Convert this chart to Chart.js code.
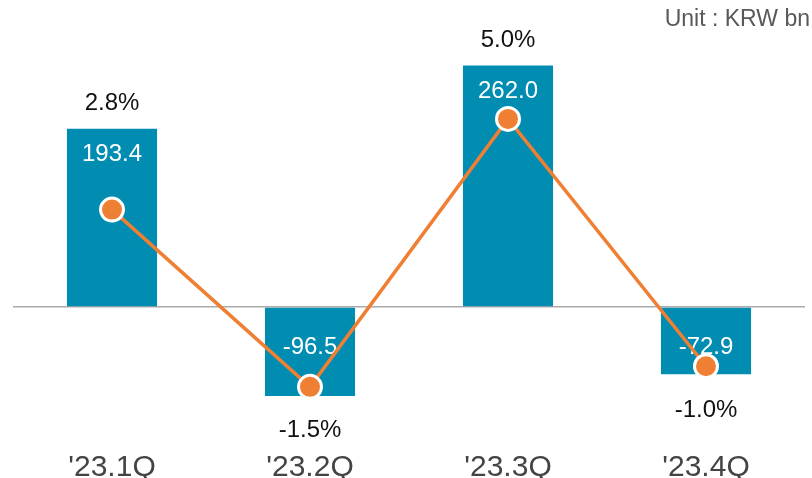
<!DOCTYPE html>
<html>
<head>
<meta charset="utf-8">
<script src="https://cdn.jsdelivr.net/npm/chart.js@4/dist/chart.umd.min.js"></script>
<style>
  html, body { margin: 0; padding: 0; background: #ffffff; }
  #wrap { width: 812px; height: 478px; position: relative; }
</style>
</head>
<body>
<div id="wrap"><canvas id="chart" width="812" height="478"></canvas></div>
<script>
// Quarterly figures (KRW bn) and the margin line (%)
const quarters = ["'23.1Q", "'23.2Q", "'23.3Q", "'23.4Q"];
const amounts = [193.4, -96.5, 262.0, -72.9];
const margins = [2.8, -1.5, 5.0, -1.0];
const unitText = 'Unit : KRW bn';

const BAR_COLOR = '#008db1';
const LINE_COLOR = '#ef7f32';
const FONT = '"Liberation Sans", Arial, sans-serif';

const labelPlugin = {
  id: 'valueLabels',
  // amount labels sit inside the bars, under the line
  afterDatasetDraw(chart, args) {
    if (args.index !== 0) return;
    const ctx = chart.ctx;
    const meta = chart.getDatasetMeta(0);
    ctx.save();
    ctx.font = '24px ' + FONT;
    ctx.fillStyle = '#ffffff';
    ctx.textAlign = 'center';
    ctx.textBaseline = 'middle';
    meta.data.forEach((bar, i) => {
      const v = amounts[i];
      const y = v >= 0 ? bar.y + 26 : bar.base + 40;
      ctx.fillText(v.toFixed(1), bar.x, y);
    });
    ctx.restore();
  },
  // margin labels: above positive bars, below the marker for negative ones
  afterDatasetsDraw(chart) {
    const ctx = chart.ctx;
    const bars = chart.getDatasetMeta(0).data;
    const points = chart.getDatasetMeta(1).data;
    ctx.save();
    ctx.font = '24px ' + FONT;
    ctx.fillStyle = '#111111';
    ctx.textAlign = 'center';
    ctx.textBaseline = 'middle';
    margins.forEach((m, i) => {
      const bar = bars[i];
      const y = amounts[i] >= 0 ? bar.y - 25 : points[i].y + 44;
      ctx.fillText(m.toFixed(1) + '%', bar.x, y);
    });
    ctx.font = '23px ' + FONT;
    ctx.fillStyle = '#595959';
    ctx.textAlign = 'right';
    ctx.fillText(unitText, 810, 20);
    ctx.restore();
  }
};

new Chart(document.getElementById('chart'), {
  data: {
    labels: quarters,
    datasets: [
      {
        type: 'bar',
        data: amounts,
        backgroundColor: BAR_COLOR,
        barPercentage: 0.455,
        categoryPercentage: 1.0,
        yAxisID: 'y',
        order: 2
      },
      {
        type: 'line',
        data: margins,
        borderColor: LINE_COLOR,
        borderWidth: 3.5,
        pointRadius: 11.5,
        pointBackgroundColor: LINE_COLOR,
        pointBorderColor: '#ffffff',
        pointBorderWidth: 3,
        tension: 0,
        yAxisID: 'y2',
        order: 1
      }
    ]
  },
  options: {
    responsive: false,
    animation: false,
    events: [],
    layout: { autoPadding: false, padding: { left: 13, right: 7, top: 20, bottom: 0 } },
    plugins: { legend: { display: false }, tooltip: { enabled: false }, title: { display: false } },
    scales: {
      x: {
        grid: { display: false },
        border: { display: false },
        ticks: {
          padding: 8,
          maxRotation: 0,
          color: '#444444',
          font: { family: FONT, size: 30, lineHeight: 0.8 }
        },
        afterFit(scale) {
          scale.height = 38;
          scale.paddingLeft = 0;
          scale.paddingRight = 0;
        }
      },
      y: {
        display: true,
        min: -144.3,
        max: 311.3,
        border: { display: false },
        ticks: { display: false },
        grid: {
          drawTicks: false,
          lineWidth: (c) => (c.tick && c.tick.value === 0 ? 1.5 : 0),
          color: '#aaaaaa'
        },
        afterFit(scale) { scale.width = 0; }
      },
      y2: {
        display: false,
        position: 'right',
        min: -2.79,
        max: 7.40
      }
    }
  },
  plugins: [labelPlugin]
});
</script>
</body>
</html>
